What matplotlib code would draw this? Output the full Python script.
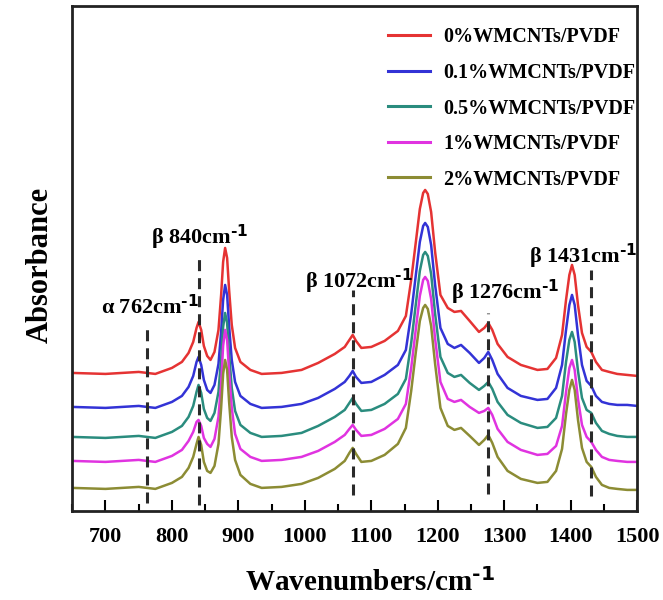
import matplotlib
matplotlib.use("Agg")
import matplotlib.pyplot as plt
from matplotlib.ticker import MultipleLocator

plt.rcParams['font.family'] = ['Liberation Serif', 'DejaVu Serif']
plt.rcParams['font.weight'] = 'bold'
plt.rcParams['mathtext.default'] = 'regular'

# FTIR spectra (absorbance, arbitrary units, stacked) vs wavenumber
wavenumber = [650, 700, 750, 775, 800, 815, 825, 832, 837, 840, 844, 848, 853, 858, 864,
              870, 874, 877, 880, 883, 886, 890, 895, 903, 918, 935, 965, 995, 1020, 1045,
              1060, 1067, 1072, 1077, 1085, 1100, 1120, 1140, 1152, 1160, 1167, 1173, 1178,
              1181, 1185, 1190, 1196, 1204, 1215, 1225, 1235, 1248, 1262, 1270, 1276, 1282,
              1290, 1305, 1325, 1350, 1365, 1378, 1387, 1393, 1398, 1402, 1406, 1411, 1417,
              1424, 1431, 1438, 1447, 1458, 1470, 1485, 1500]

abs_0 = [139, 138, 140, 138, 144, 150, 159, 170, 184, 190, 182, 166, 156, 152, 160,
         182, 217, 250, 264, 254, 222, 187, 164, 150, 142, 138, 139, 142, 149, 158,
         165, 172, 177, 171, 164, 165, 171, 181, 196, 232, 270, 303, 319,
         322, 318, 300, 260, 217, 204, 200, 201, 191, 180, 184, 189, 182,
         168, 155, 147, 142, 143, 154, 177, 212, 237, 247, 237, 207, 179,
         165, 160, 150, 142, 140, 138, 137, 136]

abs_01 = [105, 104, 106, 104, 110, 116, 125, 136, 150, 155, 147, 132, 122, 119, 127,
          148, 180, 212, 227, 217, 186, 152, 130, 116, 108, 104, 105, 108, 114, 123,
          130, 136, 141, 135, 129, 130, 137, 147, 162, 198, 237, 270, 286,
          289, 285, 267, 227, 184, 168, 164, 167, 159, 149, 154, 160, 152,
          138, 124, 116, 112, 113, 124, 147, 182, 207, 217, 207, 177, 147,
          131, 126, 116, 110, 108, 107, 107, 106]

abs_05 = [75, 74, 76, 74, 80, 86, 95, 106, 120, 127, 119, 103, 94, 91, 99,
          120, 153, 185, 199, 189, 158, 124, 101, 87, 79, 75, 76, 79, 86, 95,
          102, 109, 114, 108, 101, 102, 108, 118, 133, 169, 208, 241, 257,
          260, 256, 238, 198, 155, 139, 135, 137, 129, 122, 126, 130, 123,
          110, 97, 89, 84, 85, 94, 116, 150, 172, 180, 170, 141, 114,
          102, 99, 89, 81, 78, 76, 75, 75]

abs_1 = [51, 50, 52, 50, 56, 62, 71, 80, 90, 92, 86, 74, 68, 65, 73,
         95, 128, 166, 182, 172, 140, 104, 78, 63, 55, 51, 52, 55, 61, 70,
         77, 83, 87, 82, 76, 77, 83, 93, 108, 144, 183, 216, 232,
         235, 231, 213, 173, 130, 113, 110, 112, 105, 99, 101, 104, 97,
         83, 70, 62, 57, 58, 66, 86, 120, 144, 152, 142, 113, 87,
         75, 70, 62, 55, 52, 51, 50, 50]

abs_2 = [24, 23, 25, 23, 29, 35, 44, 55, 68, 75, 67, 50, 41, 39, 46,
         68, 104, 138, 152, 142, 110, 75, 52, 37, 28, 24, 25, 28, 34, 43,
         51, 59, 64, 58, 50, 51, 57, 68, 84, 121, 160, 191, 204,
         207, 203, 186, 148, 104, 86, 82, 84, 76, 67, 72, 77, 69,
         55, 41, 33, 29, 30, 41, 63, 98, 122, 132, 122, 92, 64,
         50, 45, 35, 27, 24, 23, 22, 22]

series_labels = ['0%WMCNTs/PVDF', '0.1%WMCNTs/PVDF', '0.5%WMCNTs/PVDF',
                 '1%WMCNTs/PVDF', '2%WMCNTs/PVDF']
series_colors = ['#e53333', '#3333d6', '#2a8c7e', '#e033e0', '#8c8c34']

# characteristic bands: position, label, dashed-line extent, label anchor
band_pos = [762, 840, 1072, 1276, 1431]
band_names = ['α 762cm', 'β 840cm', 'β 1072cm', 'β 1276cm', 'β 1431cm']
band_line_top = [187, 257, 222, 199, 242]
band_line_bottom = [9, 7, 17, 18, 16]
band_text_x = [693, 769, 1000, 1220, 1337]
band_text_y = [199, 269, 225, 214, 250]

SUP = r'$^{\text{-1}}$'

fig = plt.figure(figsize=(6.63, 6.0), dpi=100)
ax = fig.add_axes([0.108, 0.149, 0.853, 0.841])

all_abs = [abs_0, abs_01, abs_05, abs_1, abs_2]
for vals, lab, col in zip(all_abs, series_labels, series_colors):
    ax.plot(wavenumber, vals, color=col, lw=1.8, label=lab,
            solid_joinstyle='round', zorder=2)

for pos, top, bot in zip(band_pos, band_line_top, band_line_bottom):
    ax.plot([pos, pos], [bot, top], color='#2a2a2a', lw=2.2,
            linestyle=(0, (3.6, 2.3)), zorder=3)

for name, tx, ty in zip(band_names, band_text_x, band_text_y):
    ax.text(tx, ty, name + SUP, fontsize=16, fontweight='bold',
            ha='left', va='baseline', zorder=4)

ax.set_xlim(649, 1500)
ax.set_ylim(1.3, 506)
ax.xaxis.set_major_locator(MultipleLocator(100))
ax.xaxis.set_minor_locator(MultipleLocator(50))
ax.tick_params(axis='x', which='major', direction='in', length=8, width=1.5,
               labelsize=16, pad=12)
ax.tick_params(axis='x', which='minor', direction='in', length=5, width=1.5)
ax.tick_params(axis='y', left=False, labelleft=False)
for lbl in ax.get_xticklabels():
    lbl.set_fontweight('bold')
for sp in ax.spines.values():
    sp.set_linewidth(2.0)
    sp.set_color('#222222')

ax.set_xlabel('Wavenumbers/cm' + SUP, fontsize=21, fontweight='bold', labelpad=15)
ax.xaxis.label.set_x(0.527)
ax.set_ylabel('Absorbance', fontsize=22, fontweight='bold', labelpad=12)
ax.yaxis.label.set_y(0.486)

leg = ax.legend(loc='upper left', bbox_to_anchor=(388 / 663, 1 - 27.5 / 600),
                bbox_transform=fig.transFigure, frameon=False, fontsize=14.5,
                handlelength=2.1, handletextpad=0.65, labelspacing=0.77,
                borderpad=0, borderaxespad=0)
for t in leg.get_texts():
    t.set_fontweight('bold')
for h in leg.get_lines():
    h.set_linewidth(2.2)

fig.savefig('out.png', dpi=100, facecolor='white')
